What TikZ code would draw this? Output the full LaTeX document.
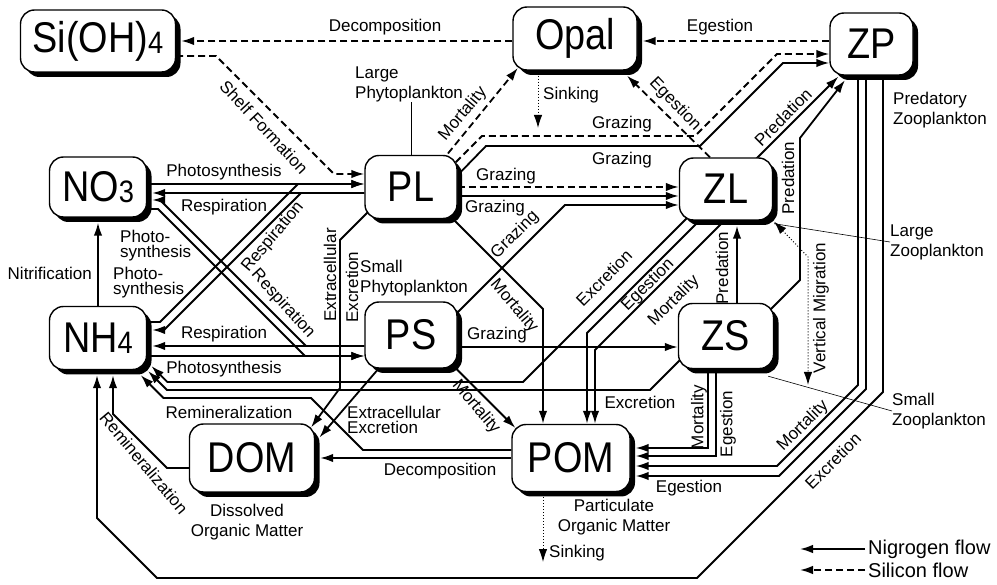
\documentclass[tikz,border=0pt]{standalone}
\usepackage{fontspec}
\usepackage{tikz}
\usetikzlibrary{arrows.meta, calc, shadows, positioning}
\newfontfamily\boxfont[FakeStretch=0.88]{Liberation Sans}
\newfontfamily\lblfont{Liberation Sans}
\newcommand\lowdigit[1]{\raisebox{-1pt}{\fontsize{31}{31}\selectfont #1}}
\pgfdeclarelayer{background}
\pgfsetlayers{background,main}

\begin{document}
\begin{tikzpicture}[x=1pt, y=-1pt, >={Latex[length=13pt,width=8.5pt]},
    pool/.style={draw, line width=1.4pt, rounded corners=14pt, fill=white,
      drop shadow={shadow xshift=5pt, shadow yshift=-5pt, fill=black, opacity=1},
      font=\boxfont\fontsize{43}{43}\selectfont, inner sep=0pt},
    nflow/.style={line width=1.8pt, ->},
    siflow/.style={nflow, dash pattern=on 7pt off 4pt},
    dotflow/.style={line width=1pt, dotted, ->},
    migflow/.style={line width=1pt, dotted, <->},
    lbl/.style={font=\lblfont\fontsize{17}{19}\selectfont, inner sep=0pt},
    tight/.style={lbl, align=left, font=\lblfont\fontsize{17}{15}\selectfont},
    loose/.style={lbl, align=left, font=\lblfont\fontsize{17}{20}\selectfont},
    leader/.style={line width=0.6pt}]
  \useasboundingbox (0,0) rectangle (997,585);

  \node[pool, minimum width=155pt, minimum height=62pt] (SiOH) at (98,41) {Si(OH)\lowdigit{4}};
  \node[pool, minimum width=124pt, minimum height=63pt] (Opal) at (575,38.5) {Opal};
  \node[pool, minimum width=83pt, minimum height=62pt] (ZP) at (871.5,44) {ZP};
  \node[pool, minimum width=97pt, minimum height=60pt] (NO3) at (98,187) {NO\lowdigit{3}};
  \node[pool, minimum width=92pt, minimum height=63pt] (PL) at (411,187) {PL};
  \node[pool, minimum width=93pt, minimum height=62pt] (ZL) at (726,189) {ZL};
  \node[pool, minimum width=97pt, minimum height=63pt] (NH4) at (98,338) {NH\lowdigit{4}};
  \node[pool, minimum width=92pt, minimum height=66pt] (PS) at (411,335) {PS};
  \node[pool, minimum width=95pt, minimum height=65pt] (ZS) at (726,336) {ZS};
  \node[pool, minimum width=125pt, minimum height=68pt] (DOM) at (252,458) {DOM};
  \node[pool, minimum width=118pt, minimum height=67pt] (POM) at (571,458) {POM};

  \coordinate (opalsink) at (538,128);
  \coordinate (pomsink) at (543,562);
  \coordinate (migbot) at (808,385);
  \coordinate (legN) at (800,549);
  \coordinate (legS) at (800,570);

  \node[lbl] (tDecoS) at (385,27) {Decomposition};
  \node[lbl] (tEgeZP) at (720,27) {Egestion};
  \node[lbl, rotate=-47] (tShell) at (264,127) {Shelf Formation};
  \node[loose, anchor=west] (lp) at (355,84) {Large\\Phytoplankton};
  \node[lbl, rotate=50] (tMortPL) at (463,114) {Mortality};
  \node[lbl, anchor=west] (tSinkOp) at (543,95) {Sinking};
  \node[lbl] (tGrzZP1) at (622,124) {Grazing};
  \node[lbl] (tGrzZP2) at (622,160) {Grazing};
  \node[lbl, rotate=-46] (tEgeZL) at (675,104) {Egestion};
  \node[lbl, rotate=45] (tPredZL) at (783,117) {Predation};
  \node[loose, anchor=west] (pz) at (893,110) {Predatory\\Zooplankton};
  \node[lbl] (tPhoNO3) at (224,172) {Photosynthesis};
  \node[lbl] (tResNO3) at (224,207) {Respiration};
  \node[lbl] (tGrzL1) at (506,176) {Grazing};
  \node[lbl] (tGrzL2) at (495,208) {Grazing};
  \node[lbl, rotate=45] (tGrzPS) at (515,235) {Grazing};
  \node[lbl, rotate=50] (tResPL) at (273,237) {Respiration};
  \node[lbl, rotate=-48] (tResPS) at (283,304) {Respiration};
  \node[tight, anchor=west] (tPho1) at (120,246) {Photo-\\synthesis};
  \node[tight, anchor=west] (tPho2) at (113,283) {Photo-\\synthesis};
  \node[lbl, anchor=east] (tNitr) at (92,273) {Nitrification};
  \node[lbl] (tResNH4) at (224,334) {Respiration};
  \node[lbl] (tPhoNH4) at (224,369) {Photosynthesis};
  \node[lbl, rotate=90] (tExtra1) at (330,275) {Extracellular};
  \node[lbl, rotate=90] (tExcr1) at (352,287) {Excretion};
  \node[loose, anchor=west] (sp) at (360,278) {Small\\Phytoplankton};
  \node[lbl] (tGrzZS) at (497,335) {Grazing};
  \node[lbl, rotate=-50] (tMortPL2) at (514,306) {Mortality};
  \node[lbl, rotate=45] (tExcZL) at (604,278) {Excretion};
  \node[lbl, rotate=45] (tEgeZL2) at (648,285) {Egestion};
  \node[lbl, rotate=45] (tMortZL) at (674,301) {Mortality};
  \node[lbl, rotate=90] (tPredZS) at (722,268) {Predation};
  \node[lbl, rotate=90] (tPredZP) at (788,178) {Predation};
  \node[lbl, rotate=90] (tMigr) at (821,308) {Vertical Migration};
  \node[loose, anchor=west] (lz) at (890,242) {Large\\Zooplankton};
  \node[loose, anchor=west] (sz) at (892,411) {Small\\Zooplankton};
  \node[lbl] (tExcZS) at (640,402) {Excretion};
  \node[lbl, rotate=90] (tMortZS) at (699,417) {Mortality};
  \node[lbl, rotate=90] (tEgeZS) at (728,424) {Egestion};
  \node[lbl, rotate=45] (tMortZP) at (803,426) {Mortality};
  \node[lbl, rotate=45] (tExcZP) at (833,461) {Excretion};
  \node[lbl] (tEgeZP2) at (689,488) {Egestion};
  \node[loose, align=center] (pomname) at (614,517) {Particulate\\Organic Matter};
  \node[lbl, anchor=west] (tSinkPOM) at (549,553) {Sinking};
  \node[loose, align=center] (domname) at (247,522) {Dissolved\\Organic Matter};
  \node[lbl] (tReminH) at (229,412) {Remineralization};
  \node[lbl, rotate=-50] (tReminD) at (144,463) {Remineralization};
  \node[tight, anchor=west] (tExtra2) at (347,420) {Extracellular\\Excretion};
  \node[lbl, rotate=-50] (tMortPS) at (476,407) {Mortality};
  \node[lbl] (tDecoP) at (440,471) {Decomposition};
  \node[lbl, anchor=west, font=\lblfont\fontsize{20}{22}\selectfont] (legn) at (868,549) {Nigrogen flow};
  \node[lbl, anchor=west, font=\lblfont\fontsize{20}{22}\selectfont] (legs) at (868,570) {Silicon flow};

  \begin{pgfonlayer}{background}
    \fill[white] (0,0) rectangle (997,585);

    % silicon
    \draw[siflow] (Opal.west |- 0,41) -- ($(SiOH.east)+(5,0)$);
    \draw[siflow] (SiOH.east |- 0,56) -- (216,56) -- (334,174) -- (PL.west |- 0,174);
    \draw[siflow] ($(PL.center)+(30,-25)$) -- ($(Opal.south west)+(5.6,-2.8)$);
    \draw[siflow] (ZP.west |- 0,41) -- ($(Opal.east)+(5,2.5)$);
    \draw[siflow] ($(ZL.north)+(-16,0)$) -- ($(Opal.south)+(52,5)$);
    \draw[siflow] (PL.east |- 0,187) -- (ZL.west |- 0,187);
    \draw[siflow] ($(PL.center)+(37,-17)$) -- (482,136) -- (695,136) -- (777,54) -- (ZP.west |- 0,54);
    \draw[dotflow] ($(Opal.south)+(-37,5)$) -- (opalsink);

    % nutrients and phytoplankton
    \draw[nflow] (NO3.east |- 0,184) -- (PL.west |- 0,184);
    \draw[nflow] (PL.west |- 0,193) -- ($(NO3.east)+(5,6)$);
    \draw[nflow] (NH4.east |- 0,322) -- (160,322) -- (298,184) -- (PL.west |- 0,184);
    \draw[nflow] (PL.west |- 0,193) -- (301,193) -- (164,330) -- ($(NH4.east)+(5,-8)$);
    \draw[nflow] (NO3.east |- 0,209) -- (158,209) -- (305,356) -- (PS.west |- 0,356);
    \draw[nflow] (PS.west |- 0,346) -- (306,346) -- (160,200) -- ($(NO3.east)+(5,13)$);
    \draw[nflow] (PS.west |- 0,346) -- ($(NH4.east)+(5,8)$);
    \draw[nflow] (NH4.east |- 0,356) -- (PS.west |- 0,356);
    \draw[nflow] (NH4.north) -- ($(NO3.south)+(0,5)$);

    % grazing and predation
    \draw[nflow] (PL.east |- 0,196) -- (ZL.west |- 0,196);
    \draw[nflow] ($(PS.center)+(29,-5)$) -- (565,205) -- (ZL.west |- 0,205);
    \draw[nflow] (PS.east |- 0,347) -- (ZS.west |- 0,347);
    \draw[nflow] ($(PL.center)+(40,-5)$) -- (486,146) -- (700,146) -- (783,63) -- (ZP.west |- 0,63);
    \draw[nflow] ($(ZL.center)+(30,-30)$) -- ($(ZP.south west)+(9.1,0.9)$);
    \draw[nflow] ($(ZS.center)+(34,-16)$) -- (800,280) -- (800,138) -- ($(ZP.south)+(-26.5,4.5)$);
    \draw[nflow] ($(ZS.north)+(11,0)$) -- ($(ZL.south)+(11,5)$);
    \draw[migflow] ($(ZL.south east)+(0.9,0.9)$) -- (808,257) -- (migbot);

    % mortality and egestion
    \draw[nflow] ($(PL.center)+(30,20)$) -- (543,309) -- ($(POM.north)+(-28,0)$);
    \draw[nflow] ($(PS.center)+(29,17.5)$) -- ($(POM.north west)+(4.1,4.1)$);
    \draw[nflow] ($(ZL.center)+(-10,15)$) -- (587,333) -- ($(POM.north)+(16,0)$);
    \draw[nflow] ($(ZL.center)+(10,20)$) -- (595,350) -- ($(POM.north)+(24,0)$);
    \draw[nflow] ($(ZS.south)+(-18,-5)$) -- (708,448) -- ($(POM.east)+(5,-10)$);
    \draw[nflow] ($(ZS.south)+(-10,-5)$) -- (716,456) -- ($(POM.east)+(5,-2)$);
    \draw[nflow] ($(ZP.south)+(-13.5,-5)$) -- (858,385) -- (777,466) -- ($(POM.east)+(5,8)$);
    \draw[nflow] ($(ZP.south)+(-5.5,-5)$) -- (866,389) -- (779,476) -- ($(POM.east)+(5,18)$);
    \draw[dotflow] ($(POM.south)+(-28,5)$) -- (pomsink);

    % dissolved organic matter
    \draw[nflow] ($(PL.center)+(-40,22)$) -- (340,240) -- (340,388) -- ($(DOM.north east)+(-4.1,4.1)$);
    \draw[nflow] ($(PS.center)+(-25,25)$) -- ($(DOM.north east)+(4.2,14.2)$);
    \draw[nflow] (POM.west) -- ($(DOM.east)+(5,0)$);

    % back to ammonium
    \draw[nflow] ($(ZL.center)+(-25,15)$) -- (523,382) -- (167.4,382) -- ($(NH4.south east)+(4.2,-4.2)$);
    \draw[nflow] ($(ZS.center)+(-36,14)$) -- (650,390) -- (167,390) -- ($(NH4.south east)+(0.9,0.9)$);
    \draw[nflow] ($(POM.west)+(0,-8)$) -- (363,450) -- (311,398) -- (163.5,398) -- ($(NH4.south east)+(-6.5,5)$);
    \draw[nflow] ($(DOM.west)+(0,10)$) -- (167,468) -- (113,414) -- ($(NH4.south)+(15,5)$);
    \draw[nflow] ($(ZP.south)+(11.5,-5)$) -- (883,392) -- (697,578) -- (157,578) -- (97,518) -- ($(NH4.south)+(-1,5)$);

    % name leaders and legend
    \draw[leader] (PL.north) -- (PL.north |- lp.south);
    \draw[leader] ($(ZL.south east)+(1,3)$) -- (lz.west);
    \draw[leader] ($(ZS.south east)+(-6,7)$) -- (sz.west);
    \draw[nflow] ($(legn.west)+(-3,0)$) -- (legN);
    \draw[siflow] ($(legs.west)+(-3,0)$) -- (legS);
  \end{pgfonlayer}
\end{tikzpicture}
\end{document}
